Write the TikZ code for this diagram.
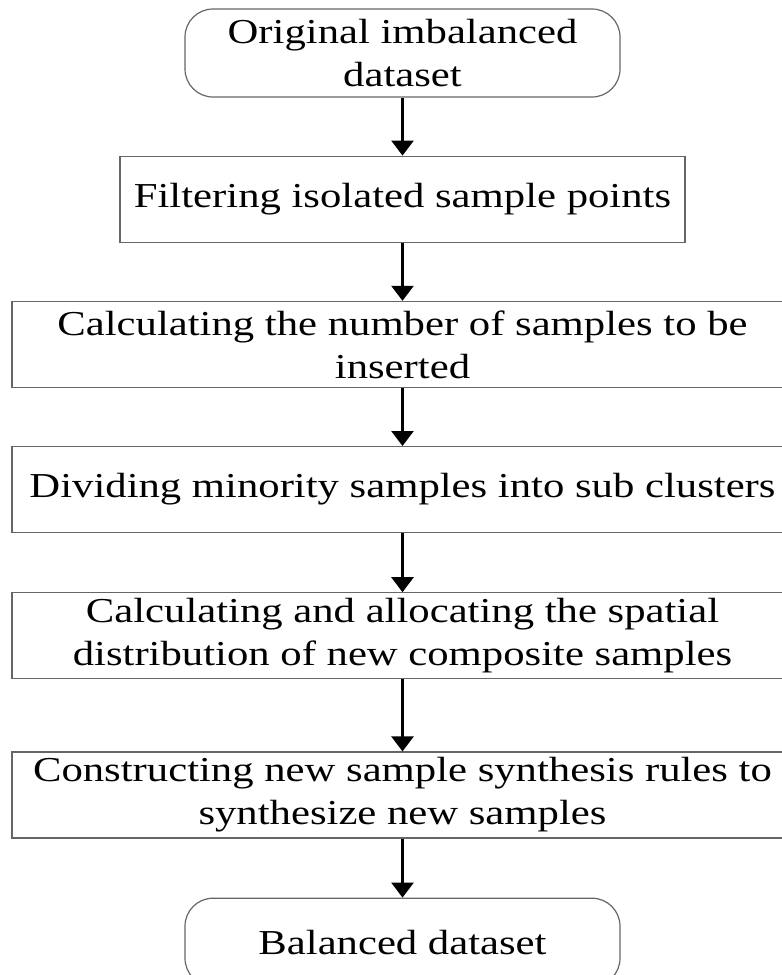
\documentclass[tikz,border=0pt]{standalone}
\usepackage{fontspec}
\setmainfont{Liberation Serif}[FakeStretch=1.22]
\usepackage{tikz}
\usetikzlibrary{arrows.meta, positioning}
\tikzstyle{arr}      = [-{Triangle[length=15pt,width=22pt]}, line width=2.6pt]

\begin{document}
\begin{tikzpicture}[
  stepbox/.style={rectangle, draw=black!60, line width=1.2pt, minimum height=86pt,
                  inner sep=2pt, text centered, align=center,
                  font=\fontsize{35}{43}\selectfont},
  term/.style={stepbox, rounded corners=28pt, minimum width=435pt, minimum height=88pt},
  mid/.style={stepbox, minimum width=565pt},
  wide/.style={stepbox, minimum width=781pt},
  node distance=58pt
]
  \useasboundingbox (0,0) rectangle (782pt,-975pt);

  \node[term] (orig) at (402.5pt,-53pt) {Original imbalanced\\dataset};
  \node[mid,  below=of orig] (filt) {Filtering isolated sample points};
  \node[wide, below=of filt] (num)  {Calculating the number of samples to be\\inserted};
  \node[wide, below=of num]  (divi) {Dividing minority samples into sub clusters};
  \node[wide, below=59pt of divi] (dist) {Calculating and allocating the spatial\\distribution of new composite samples};
  \node[wide, below=72pt of dist] (rule) {Constructing new sample synthesis rules to\\synthesize new samples};
  \node[term, below=59pt of rule] (bal)  {Balanced dataset};

  \draw[arr] (orig) -- (filt); \draw[arr] (filt) -- (num); \draw[arr] (num) -- (divi);
  \draw[arr] (divi) -- (dist); \draw[arr] (dist) -- (rule); \draw[arr] (rule) -- (bal);
\end{tikzpicture}
\end{document}
